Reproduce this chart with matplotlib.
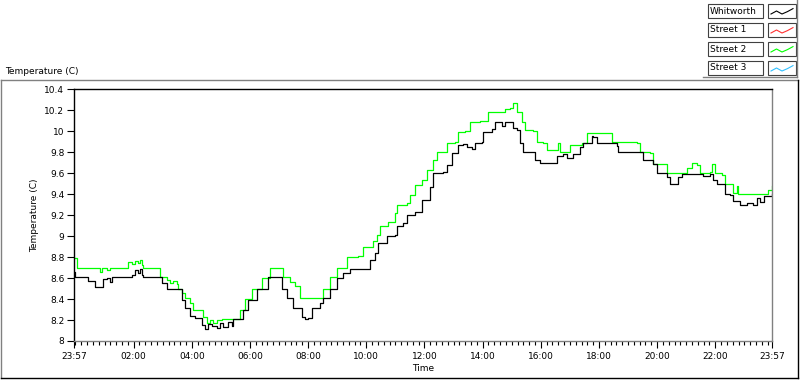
import numpy as np
import matplotlib
matplotlib.use('Agg')
import matplotlib.pyplot as plt
from matplotlib.lines import Line2D
from matplotlib.patches import Rectangle

# hours since 23:57 and temperatures (C)
whit_t = [0.0, 0.02, 0.38, 0.49, 0.61, 0.72, 0.89, 1.01, 1.12, 1.24, 1.30, 1.87, 1.98, 2.10, 2.21, 2.27,
          2.33, 2.38, 2.96, 3.02, 3.19, 3.64, 3.70, 3.82, 3.99, 4.16, 4.39, 4.50, 4.62, 4.73, 4.91, 5.02,
          5.13, 5.31, 5.42, 5.48, 5.77, 5.82, 5.99, 6.28, 6.68, 7.02, 7.14, 7.31, 7.54, 7.83, 7.94, 8.06,
          8.17, 8.35, 8.46, 8.57, 8.80, 9.03, 9.26, 9.49, 10.12, 10.18, 10.35, 10.46, 10.75, 11.04, 11.10,
          11.32, 11.44, 11.73, 11.96, 12.24, 12.35, 12.70, 12.82, 12.99, 13.21, 13.39, 13.50, 13.67, 13.79,
          14.02, 14.07, 14.36, 14.48, 14.71, 14.82, 15.05, 15.11, 15.22, 15.34, 15.45, 15.79, 15.85, 16.02,
          16.48, 16.60, 16.83, 16.94, 17.17, 17.40, 17.51, 17.80, 17.86, 17.97, 18.54, 18.66, 18.72, 19.40,
          19.58, 19.92, 20.04, 20.26, 20.38, 20.49, 20.66, 20.78, 20.90, 21.52, 21.64, 21.87, 21.98, 22.10,
          22.33, 22.39, 22.56, 22.67, 22.90, 23.13, 23.36, 23.48, 23.59, 23.71, 23.99]
whit_v = [8.66, 8.61, 8.61, 8.57, 8.57, 8.51, 8.51, 8.59, 8.60, 8.56, 8.61, 8.61, 8.63, 8.68, 8.65, 8.69,
          8.63, 8.61, 8.61, 8.55, 8.50, 8.50, 8.39, 8.31, 8.24, 8.22, 8.15, 8.11, 8.16, 8.14, 8.12, 8.17,
          8.13, 8.18, 8.14, 8.21, 8.21, 8.30, 8.39, 8.50, 8.61, 8.61, 8.50, 8.41, 8.31, 8.23, 8.21, 8.22,
          8.31, 8.31, 8.36, 8.41, 8.50, 8.60, 8.65, 8.69, 8.69, 8.77, 8.84, 8.93, 9.00, 9.01, 9.10,
          9.12, 9.20, 9.23, 9.34, 9.47, 9.60, 9.61, 9.68, 9.79, 9.87, 9.88, 9.85, 9.83, 9.89,
          9.90, 9.99, 10.02, 10.09, 10.05, 10.09, 10.09, 10.03, 10.01, 9.89, 9.80, 9.80, 9.72, 9.70,
          9.70, 9.76, 9.78, 9.74, 9.78, 9.85, 9.89, 9.95, 9.94, 9.89, 9.89, 9.86, 9.80, 9.80,
          9.72, 9.69, 9.60, 9.60, 9.56, 9.50, 9.50, 9.56, 9.59, 9.59, 9.57, 9.59, 9.53, 9.50,
          9.50, 9.40, 9.39, 9.33, 9.30, 9.31, 9.30, 9.36, 9.32, 9.38, 9.40]

st2_t = [0.0, 0.11, 0.84, 0.89, 0.95, 1.12, 1.24, 1.81, 1.87, 1.98, 2.10, 2.21, 2.27, 2.33, 2.38, 2.90,
         2.96, 3.19, 3.30, 3.41, 3.53, 3.59, 3.70, 3.82, 3.99, 4.10, 4.39, 4.45, 4.56, 4.68, 4.79, 4.91,
         5.08, 5.59, 5.71, 5.88, 6.11, 6.34, 6.45, 6.74, 7.08, 7.20, 7.43, 7.60, 7.77, 8.40, 8.57, 8.80,
         9.03, 9.38, 9.78, 9.95, 10.29, 10.41, 10.52, 10.81, 11.04, 11.10, 11.44, 11.55, 11.73, 11.96,
         12.13, 12.35, 12.47, 12.82, 13.10, 13.21, 13.44, 13.62, 13.96, 14.25, 14.65, 14.82, 14.99, 15.11,
         15.22, 15.39, 15.51, 15.79, 15.91, 16.14, 16.25, 16.48, 16.65, 16.71, 17.00, 17.05, 17.46, 17.63,
         18.37, 18.49, 19.35, 19.46, 19.81, 19.92, 20.29, 20.38, 20.95, 21.07, 21.24, 21.41, 21.52, 21.87,
         21.93, 22.04, 22.27, 22.39, 22.56, 22.67, 22.79, 22.84, 23.76, 23.87, 23.99]
st2_v = [8.79, 8.70, 8.70, 8.66, 8.70, 8.68, 8.70, 8.70, 8.75, 8.73, 8.76, 8.74, 8.77, 8.72, 8.70, 8.70,
         8.61, 8.58, 8.55, 8.57, 8.54, 8.50, 8.46, 8.41, 8.36, 8.30, 8.30, 8.23, 8.17, 8.20, 8.17, 8.20,
         8.21, 8.21, 8.30, 8.40, 8.50, 8.50, 8.60, 8.70, 8.70, 8.61, 8.56, 8.52, 8.41, 8.41, 8.50, 8.61,
         8.70, 8.80, 8.81, 8.90, 8.95, 9.01, 9.10, 9.13, 9.22, 9.30, 9.31, 9.39, 9.49, 9.53,
         9.63, 9.72, 9.80, 9.89, 9.90, 9.99, 10.00, 10.09, 10.10, 10.18, 10.18, 10.21, 10.22, 10.27,
         10.18, 10.09, 10.01, 10.00, 9.90, 9.89, 9.82, 9.82, 9.89, 9.80, 9.80, 9.87, 9.89, 9.98,
         9.98, 9.90, 9.89, 9.80, 9.79, 9.69, 9.69, 9.60, 9.60, 9.65, 9.70, 9.68, 9.60, 9.61,
         9.69, 9.60, 9.58, 9.50, 9.50, 9.41, 9.48, 9.40, 9.40, 9.44, 9.48]

names = ['Whitworth', 'Street 1', 'Street 2', 'Street 3']
colors = ['black', '#ff3030', '#00ff00', '#30c0ff']
tick_labels = ['23:57', '02:00', '04:00', '06:00', '08:00', '10:00', '12:00',
               '14:00', '16:00', '18:00', '20:00', '22:00', '23:57']

plt.rcParams['font.family'] = 'DejaVu Sans'
fs = 6.5

W, H = 800, 380
fig = plt.figure(figsize=(8, 3.8), dpi=100)

def fx(px):
    return px / W

def fy(py):
    return 1 - py / H

ax = fig.add_axes([fx(74), fy(341), fx(772) - fx(74), fy(89) - fy(341)])
ax.plot(st2_t, st2_v, color=colors[2], lw=0.9, drawstyle='steps-post')
ax.plot(whit_t, whit_v, color=colors[0], lw=0.9, drawstyle='steps-post')

ax.set_xlim(0, 24)
ax.set_ylim(8, 10.4)
ax.set_yticks(np.arange(8, 10.41, 0.2))
ax.set_yticklabels(['8', '8.2', '8.4', '8.6', '8.8', '9', '9.2', '9.4', '9.6', '9.8', '10', '10.2', '10.4'])
major = [0] + [2.05 + 2 * i for i in range(11)] + [24]
ax.set_xticks(major)
ax.set_xticklabels(tick_labels)
ax.set_xticks([0.05 + 0.2 * i for i in range(120)], minor=True)
ax.tick_params(axis='both', labelsize=fs, color='black', width=0.8)
ax.tick_params(axis='y', length=5, pad=2)
ax.tick_params(axis='x', which='major', length=5, pad=3)
ax.tick_params(axis='x', which='minor', length=3, width=0.8)
ax.spines['top'].set_color('black')
ax.spines['left'].set_color('black')
ax.spines['right'].set_color('#808080')
ax.spines['bottom'].set_color('#808080')
for s in ax.spines.values():
    s.set_linewidth(1.0)
ax.set_xlabel('Time', fontsize=fs, labelpad=2)
ax.set_ylabel('Temperature (C)', fontsize=fs, labelpad=4)

# outer panel frame
fig.add_artist(Line2D([fx(1), fx(798)], [fy(80), fy(80)], color='#808080', lw=1.0))
fig.add_artist(Line2D([fx(1), fx(1)], [fy(80), fy(378)], color='#808080', lw=1.0))
fig.add_artist(Line2D([fx(1), fx(798)], [fy(378), fy(378)], color='black', lw=1.0))
fig.add_artist(Line2D([fx(798), fx(798)], [fy(80), fy(378)], color='black', lw=1.0))
fig.text(fx(5), fy(72), 'Temperature (C)', fontsize=fs, va='center', ha='left')

# legend panel
fig.add_artist(Line2D([fx(797), fx(797)], [fy(0), fy(77)], color='#808080', lw=1.0))
fig.add_artist(Line2D([fx(703), fx(797)], [fy(77), fy(77)], color='#808080', lw=1.0))
zig_x = np.array([0.0, 0.25, 0.5, 0.75, 1.0])
zig_y = np.array([0.0, 0.5, 0.0, 0.4, 0.9])
for i, (name, c) in enumerate(zip(names, colors)):
    top = 4 + 19 * i
    fig.add_artist(Rectangle((fx(708), fy(top + 14)), fx(55), 14 / H, fill=False,
                             edgecolor='#404040', lw=0.8))
    fig.text(fx(710), fy(top + 7), name, fontsize=fs, va='center', ha='left')
    fig.add_artist(Rectangle((fx(768), fy(top + 14)), fx(28), 14 / H, fill=False,
                             edgecolor='#404040', lw=0.8))
    xs = fx(771) + zig_x * fx(22)
    ys = fy(top + 10) + zig_y * 6 / H
    fig.add_artist(Line2D(xs, ys, color=c, lw=0.8))

fig.savefig('out.png', dpi=100)
